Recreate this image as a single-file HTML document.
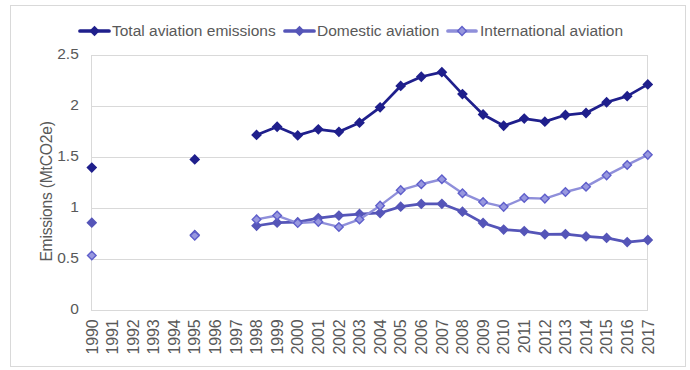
<!DOCTYPE html>
<html><head><meta charset="utf-8"><style>
html,body{margin:0;padding:0;background:#fff;}
body{width:690px;height:370px;position:relative;overflow:hidden;font-family:"Liberation Sans",sans-serif;color:#595959;}
.frame{position:absolute;left:10px;top:5px;width:674px;height:360px;border:1px solid #d9d9d9;}
svg{position:absolute;left:0;top:0;}
.leg{position:absolute;top:21px;font-size:15.5px;line-height:20px;white-space:nowrap;}
.yl{position:absolute;left:20.8px;width:58px;text-align:right;font-size:15.5px;line-height:18px;}
</style></head><body>
<div class="frame"></div>
<svg width="690" height="370" viewBox="0 0 690 370">
<line x1="91" y1="55.5" x2="648" y2="55.5" stroke="#d9d9d9" stroke-width="1"/>
<line x1="91" y1="106.5" x2="648" y2="106.5" stroke="#d9d9d9" stroke-width="1"/>
<line x1="91" y1="157.5" x2="648" y2="157.5" stroke="#d9d9d9" stroke-width="1"/>
<line x1="91" y1="208.5" x2="648" y2="208.5" stroke="#d9d9d9" stroke-width="1"/>
<line x1="91" y1="259.5" x2="648" y2="259.5" stroke="#d9d9d9" stroke-width="1"/>
<line x1="91" y1="310.5" x2="648" y2="310.5" stroke="#d9d9d9" stroke-width="1"/>
<line x1="91.5" y1="55" x2="91.5" y2="311" stroke="#d9d9d9" stroke-width="1"/>
<line x1="647.5" y1="55" x2="647.5" y2="311" stroke="#d9d9d9" stroke-width="1"/>
<polyline points="256.54,134.91 277.13,126.75 297.73,135.42 318.32,129.30 338.91,131.85 359.50,122.67 380.10,107.37 400.69,85.95 421.28,76.77 441.87,72.18 462.47,94.11 483.06,114.51 503.65,125.73 524.24,118.59 544.84,121.65 565.43,115.02 586.02,112.98 606.61,102.27 627.21,96.15 647.80,84.42" fill="none" stroke="#1f1f8c" stroke-width="2.75" stroke-linejoin="round"/>
<path d="M91.80 162.15L97.20 167.55L91.80 172.95L86.40 167.55ZM194.76 153.99L200.16 159.39L194.76 164.79L189.36 159.39ZM256.54 129.51L261.94 134.91L256.54 140.31L251.14 134.91ZM277.13 121.35L282.53 126.75L277.13 132.15L271.73 126.75ZM297.73 130.02L303.13 135.42L297.73 140.82L292.33 135.42ZM318.32 123.90L323.72 129.30L318.32 134.70L312.92 129.30ZM338.91 126.45L344.31 131.85L338.91 137.25L333.51 131.85ZM359.50 117.27L364.90 122.67L359.50 128.07L354.10 122.67ZM380.10 101.97L385.50 107.37L380.10 112.77L374.70 107.37ZM400.69 80.55L406.09 85.95L400.69 91.35L395.29 85.95ZM421.28 71.37L426.68 76.77L421.28 82.17L415.88 76.77ZM441.87 66.78L447.27 72.18L441.87 77.58L436.47 72.18ZM462.47 88.71L467.87 94.11L462.47 99.51L457.07 94.11ZM483.06 109.11L488.46 114.51L483.06 119.91L477.66 114.51ZM503.65 120.33L509.05 125.73L503.65 131.13L498.25 125.73ZM524.24 113.19L529.64 118.59L524.24 123.99L518.84 118.59ZM544.84 116.25L550.24 121.65L544.84 127.05L539.44 121.65ZM565.43 109.62L570.83 115.02L565.43 120.42L560.03 115.02ZM586.02 107.58L591.42 112.98L586.02 118.38L580.62 112.98ZM606.61 96.87L612.01 102.27L606.61 107.67L601.21 102.27ZM627.21 90.75L632.61 96.15L627.21 101.55L621.81 96.15ZM647.80 79.02L653.20 84.42L647.80 89.82L642.40 84.42Z" fill="#1f1f8c" stroke="#1f1f8c" stroke-width="0"/>
<polyline points="256.54,225.74 277.13,222.68 297.73,222.17 318.32,218.09 338.91,215.54 359.50,214.01 380.10,212.99 400.69,206.67 421.28,203.91 441.87,203.81 462.47,211.66 483.06,222.99 503.65,229.62 524.24,231.04 544.84,234.31 565.43,234.10 586.02,236.45 606.61,237.88 627.21,242.06 647.80,240.02" fill="none" stroke="#5555b8" stroke-width="2.75" stroke-linejoin="round"/>
<path d="M91.80 217.28L97.20 222.68L91.80 228.08L86.40 222.68ZM194.76 229.52L200.16 234.92L194.76 240.32L189.36 234.92ZM256.54 220.34L261.94 225.74L256.54 231.14L251.14 225.74ZM277.13 217.28L282.53 222.68L277.13 228.08L271.73 222.68ZM297.73 216.77L303.13 222.17L297.73 227.57L292.33 222.17ZM318.32 212.69L323.72 218.09L318.32 223.49L312.92 218.09ZM338.91 210.14L344.31 215.54L338.91 220.94L333.51 215.54ZM359.50 208.61L364.90 214.01L359.50 219.41L354.10 214.01ZM380.10 207.59L385.50 212.99L380.10 218.39L374.70 212.99ZM400.69 201.27L406.09 206.67L400.69 212.07L395.29 206.67ZM421.28 198.51L426.68 203.91L421.28 209.31L415.88 203.91ZM441.87 198.41L447.27 203.81L441.87 209.21L436.47 203.81ZM462.47 206.26L467.87 211.66L462.47 217.06L457.07 211.66ZM483.06 217.59L488.46 222.99L483.06 228.39L477.66 222.99ZM503.65 224.22L509.05 229.62L503.65 235.02L498.25 229.62ZM524.24 225.64L529.64 231.04L524.24 236.44L518.84 231.04ZM544.84 228.91L550.24 234.31L544.84 239.71L539.44 234.31ZM565.43 228.70L570.83 234.10L565.43 239.50L560.03 234.10ZM586.02 231.05L591.42 236.45L586.02 241.85L580.62 236.45ZM606.61 232.48L612.01 237.88L606.61 243.28L601.21 237.88ZM627.21 236.66L632.61 242.06L627.21 247.46L621.81 242.06ZM647.80 234.62L653.20 240.02L647.80 245.42L642.40 240.02Z" fill="#5555b8" stroke="#5555b8" stroke-width="0"/>
<polyline points="256.54,219.41 277.13,215.54 297.73,223.08 318.32,221.86 338.91,226.96 359.50,219.41 380.10,205.64 400.69,190.14 421.28,184.22 441.87,179.22 462.47,193.20 483.06,202.07 503.65,206.87 524.24,197.99 544.84,198.60 565.43,191.97 586.02,186.67 606.61,175.35 627.21,164.94 647.80,154.85" fill="none" stroke="#8f8fda" stroke-width="2.4" stroke-linejoin="round"/>
<path d="M91.80 251.22L96.10 255.52L91.80 259.82L87.50 255.52ZM194.76 231.33L199.06 235.63L194.76 239.93L190.46 235.63ZM256.54 215.11L260.84 219.41L256.54 223.71L252.24 219.41ZM277.13 211.24L281.43 215.54L277.13 219.84L272.83 215.54ZM297.73 218.78L302.03 223.08L297.73 227.38L293.43 223.08ZM318.32 217.56L322.62 221.86L318.32 226.16L314.02 221.86ZM338.91 222.66L343.21 226.96L338.91 231.26L334.61 226.96ZM359.50 215.11L363.80 219.41L359.50 223.71L355.20 219.41ZM380.10 201.34L384.40 205.64L380.10 209.94L375.80 205.64ZM400.69 185.84L404.99 190.14L400.69 194.44L396.39 190.14ZM421.28 179.92L425.58 184.22L421.28 188.52L416.98 184.22ZM441.87 174.92L446.17 179.22L441.87 183.52L437.57 179.22ZM462.47 188.90L466.77 193.20L462.47 197.50L458.17 193.20ZM483.06 197.77L487.36 202.07L483.06 206.37L478.76 202.07ZM503.65 202.57L507.95 206.87L503.65 211.17L499.35 206.87ZM524.24 193.69L528.54 197.99L524.24 202.29L519.94 197.99ZM544.84 194.30L549.14 198.60L544.84 202.90L540.54 198.60ZM565.43 187.67L569.73 191.97L565.43 196.27L561.13 191.97ZM586.02 182.37L590.32 186.67L586.02 190.97L581.72 186.67ZM606.61 171.05L610.91 175.35L606.61 179.65L602.31 175.35ZM627.21 160.64L631.51 164.94L627.21 169.24L622.91 164.94ZM647.80 150.55L652.10 154.85L647.80 159.15L643.50 154.85Z" fill="#9898df" stroke="#5f5fcb" stroke-width="1.4"/>
<line x1="80" y1="31.0" x2="109" y2="31.0" stroke="#1f1f8c" stroke-width="3.7" stroke-linecap="round"/><path d="M94.50 25.80L99.70 31.00L94.50 36.20L89.30 31.00Z" fill="#1f1f8c" stroke="#1f1f8c" stroke-width="0"/>
<line x1="285" y1="31.0" x2="314" y2="31.0" stroke="#5555b8" stroke-width="3.7" stroke-linecap="round"/><path d="M299.50 25.80L304.70 31.00L299.50 36.20L294.30 31.00Z" fill="#5555b8" stroke="#5555b8" stroke-width="0"/>
<line x1="448" y1="31.0" x2="476" y2="31.0" stroke="#8f8fda" stroke-width="3.7" stroke-linecap="round"/><path d="M462.00 26.60L466.40 31.00L462.00 35.40L457.60 31.00Z" fill="#9696de" stroke="#6060ca" stroke-width="1.4"/>
</svg>
<div class="leg" style="left:112px">Total aviation emissions</div>
<div class="leg" style="left:317px">Domestic aviation</div>
<div class="leg" style="left:480px">International aviation</div>
<div class="yl" style="top:45px">2.5</div>
<div class="yl" style="top:96px">2</div>
<div class="yl" style="top:147px">1.5</div>
<div class="yl" style="top:198px">1</div>
<div class="yl" style="top:249px">0.5</div>
<div class="yl" style="top:300px">0</div>

<svg width="690" height="370" viewBox="0 0 690 370" style="font-family:'Liberation Sans',sans-serif;font-size:16px;letter-spacing:-0.15px;fill:#595959">
<text transform="translate(97.50,319.5) rotate(-90)" text-anchor="end">1990</text><text transform="translate(118.09,319.5) rotate(-90)" text-anchor="end">1991</text><text transform="translate(138.69,319.5) rotate(-90)" text-anchor="end">1992</text><text transform="translate(159.28,319.5) rotate(-90)" text-anchor="end">1993</text><text transform="translate(179.87,319.5) rotate(-90)" text-anchor="end">1994</text><text transform="translate(200.46,319.5) rotate(-90)" text-anchor="end">1995</text><text transform="translate(221.06,319.5) rotate(-90)" text-anchor="end">1996</text><text transform="translate(241.65,319.5) rotate(-90)" text-anchor="end">1997</text><text transform="translate(262.24,319.5) rotate(-90)" text-anchor="end">1998</text><text transform="translate(282.83,319.5) rotate(-90)" text-anchor="end">1999</text><text transform="translate(303.43,319.5) rotate(-90)" text-anchor="end">2000</text><text transform="translate(324.02,319.5) rotate(-90)" text-anchor="end">2001</text><text transform="translate(344.61,319.5) rotate(-90)" text-anchor="end">2002</text><text transform="translate(365.20,319.5) rotate(-90)" text-anchor="end">2003</text><text transform="translate(385.80,319.5) rotate(-90)" text-anchor="end">2004</text><text transform="translate(406.39,319.5) rotate(-90)" text-anchor="end">2005</text><text transform="translate(426.98,319.5) rotate(-90)" text-anchor="end">2006</text><text transform="translate(447.57,319.5) rotate(-90)" text-anchor="end">2007</text><text transform="translate(468.17,319.5) rotate(-90)" text-anchor="end">2008</text><text transform="translate(488.76,319.5) rotate(-90)" text-anchor="end">2009</text><text transform="translate(509.35,319.5) rotate(-90)" text-anchor="end">2010</text><text transform="translate(529.94,319.5) rotate(-90)" text-anchor="end">2011</text><text transform="translate(550.54,319.5) rotate(-90)" text-anchor="end">2012</text><text transform="translate(571.13,319.5) rotate(-90)" text-anchor="end">2013</text><text transform="translate(591.72,319.5) rotate(-90)" text-anchor="end">2014</text><text transform="translate(612.31,319.5) rotate(-90)" text-anchor="end">2015</text><text transform="translate(632.91,319.5) rotate(-90)" text-anchor="end">2016</text><text transform="translate(653.50,319.5) rotate(-90)" text-anchor="end">2017</text>
<text transform="translate(52.3,191.5) rotate(-90)" text-anchor="middle" style="font-size:15.6px;letter-spacing:-0.2px">Emissions (MtCO2e)</text>
</svg>
</body></html>
